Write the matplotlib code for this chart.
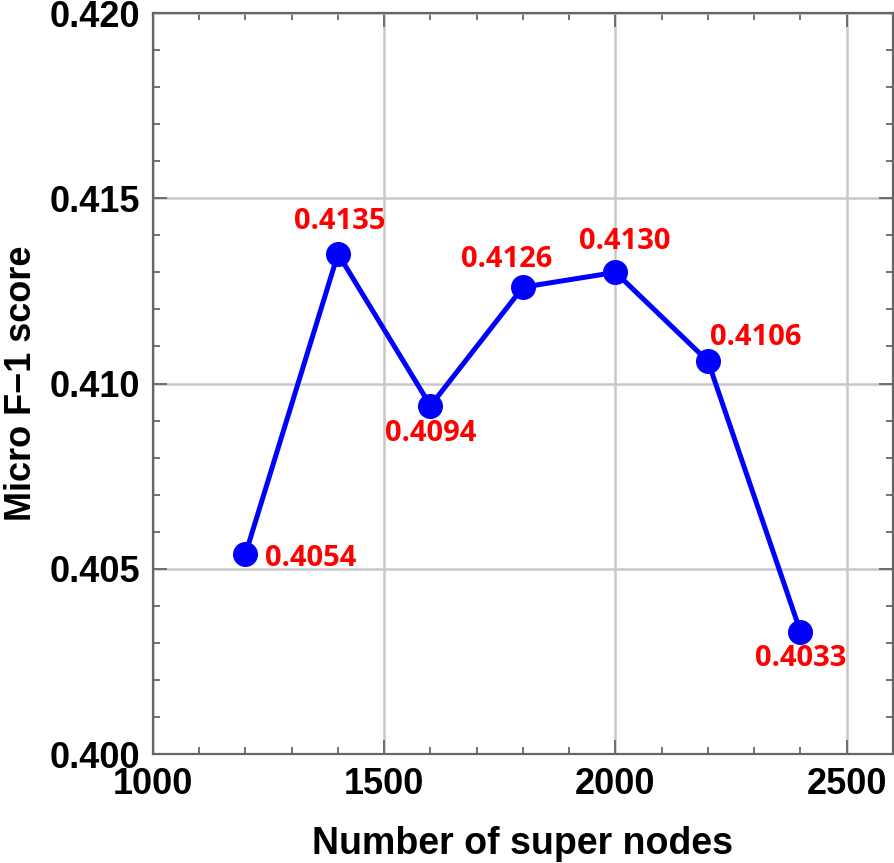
import matplotlib
matplotlib.use("Agg")
import matplotlib.pyplot as plt
from matplotlib.ticker import MultipleLocator, FormatStrFormatter

x_nodes = [1200, 1400, 1600, 1800, 2000, 2200, 2400]
f1_scores = [0.4054, 0.4135, 0.4094, 0.4126, 0.4130, 0.4106, 0.4033]
labels = ["0.4054", "0.4135", "0.4094", "0.4126", "0.4130", "0.4106", "0.4033"]
# label offsets in points (dx, dy)
offsets = [(47, -3), (1, 23), (0, -20), (-12, 20), (7, 22), (34, 17), (0, -19)]

fig = plt.figure(figsize=(8.95, 8.63), dpi=100)
ax = fig.add_axes([153/895, 1-754/863, 740/895, 741/863])

ax.plot(x_nodes, f1_scores, color="#0000ff", lw=3.6, marker="o", ms=17, zorder=3)

for xv, yv, lab, (dx, dy) in zip(x_nodes, f1_scores, labels, offsets):
    ax.annotate(lab, (xv, yv), xytext=(dx, dy), textcoords="offset points",
                ha="center", va="center", color="#ff0000", fontsize=21,
                fontweight="bold", family="Open Sans", zorder=4)

ax.set_xlim(1000, 2600)
ax.set_ylim(0.400, 0.420)
ax.xaxis.set_major_locator(MultipleLocator(500))
ax.xaxis.set_minor_locator(MultipleLocator(100))
ax.yaxis.set_major_locator(MultipleLocator(0.005))
ax.yaxis.set_minor_locator(MultipleLocator(0.001))
ax.yaxis.set_major_formatter(FormatStrFormatter("%.3f"))

ax.grid(True, which="major", color="#c8c8c8", lw=1.8, zorder=0)
ax.set_axisbelow(True)

for sp in ax.spines.values():
    sp.set_color("#666666")
    sp.set_linewidth(1.6)

ax.tick_params(which="both", direction="in", top=True, right=True, color="#666666", width=1.3)
ax.tick_params(which="major", length=10, labelsize=26, pad=9)
ax.tick_params(which="minor", length=5)
for t in ax.get_xticklabels() + ax.get_yticklabels():
    t.set_fontweight("bold")
    t.set_family("Liberation Sans")

ax.set_xlabel("Number of super nodes", fontsize=27, fontweight="bold", family="Liberation Sans", labelpad=18)
ax.set_ylabel("Micro F\u22121 score", fontsize=26, fontweight="bold", family="Liberation Sans", labelpad=8)

fig.savefig("out.png", dpi=100)
